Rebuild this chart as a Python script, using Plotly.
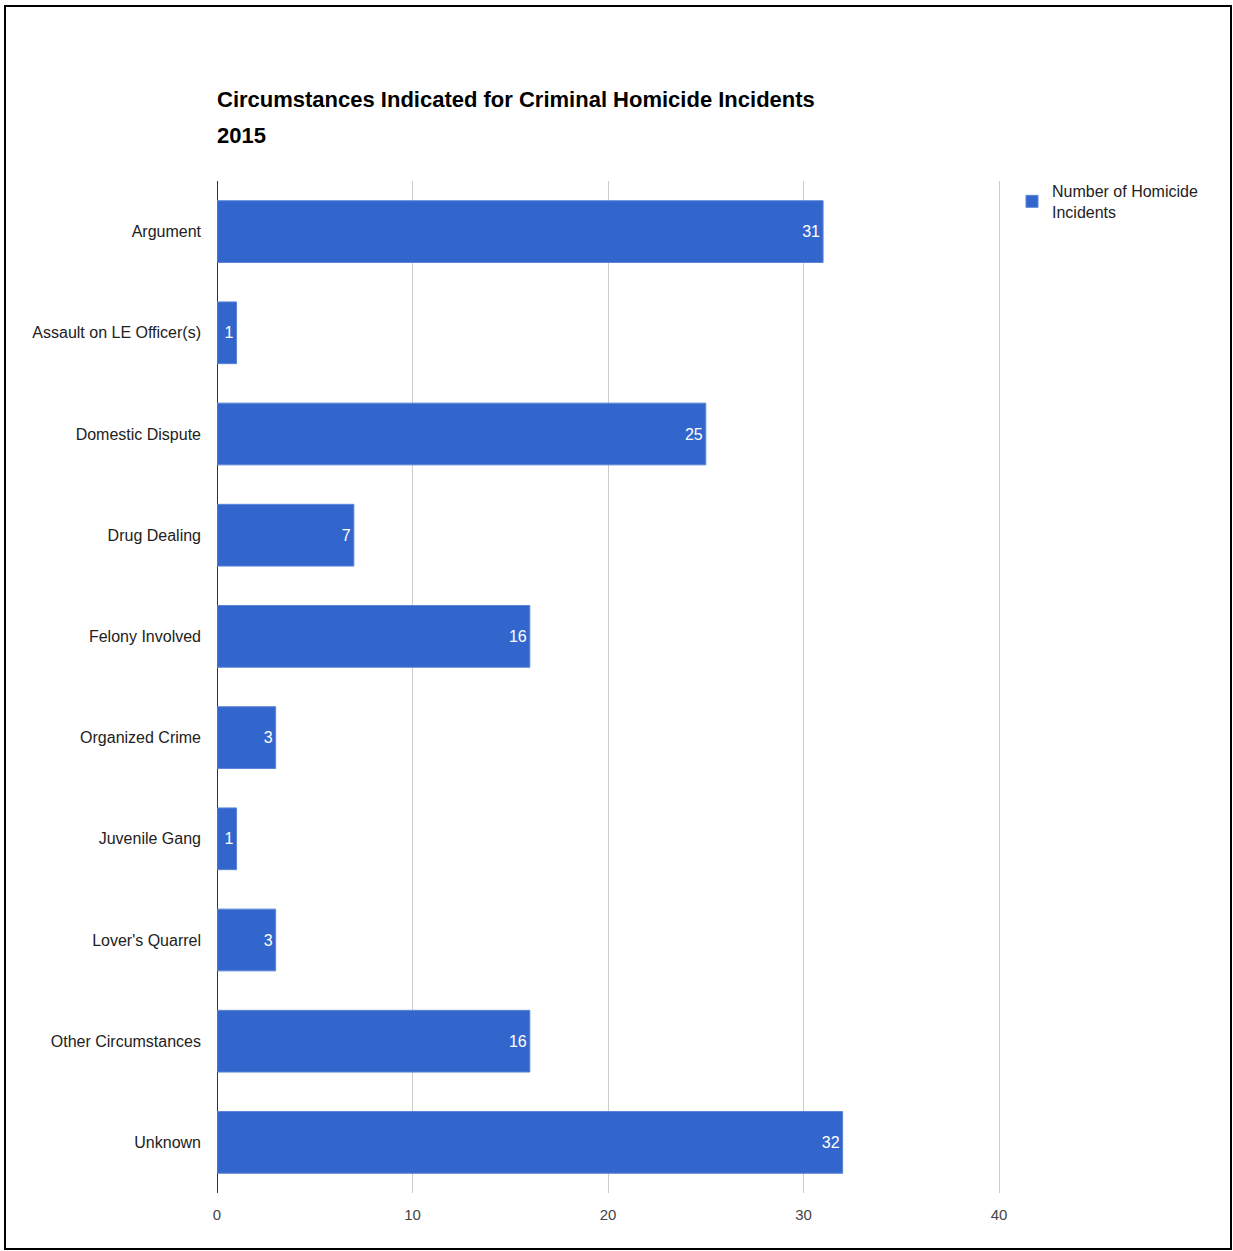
import plotly.graph_objects as go

categories = ["Argument", "Assault on LE Officer(s)", "Domestic Dispute", "Drug Dealing",
              "Felony Involved", "Organized Crime", "Juvenile Gang", "Lover's Quarrel",
              "Other Circumstances", "Unknown"]
values = [31, 1, 25, 7, 16, 3, 1, 3, 16, 32]
x_ticks = [0, 10, 20, 30, 40]
title_lines = ["Circumstances Indicated for Criminal Homicide Incidents", "2015"]

W, H = 1233, 1251
L, R, T, B = 217, 232, 181, 58
pw, ph = W - L - R, H - T - B

def px_x(p):
    return (p - L) / pw

def px_y(p):
    return (H - B - p) / ph

fig = go.Figure()
fig.add_trace(go.Bar(
    y=categories, x=values, orientation="h",
    name="Number of Homicide<br>Incidents",
    marker=dict(color="#3366CC", line=dict(color="#5a85d6", width=1)),
    text=[str(v) for v in values], textposition="inside", insidetextanchor="end",
    textfont=dict(color="white", size=16, family="Arial"),
    showlegend=True,
))

fig.update_layout(
    width=W, height=H,
    margin=dict(l=L, r=R, t=T, b=B, pad=0),
    paper_bgcolor="white", plot_bgcolor="white",
    font=dict(family="Arial", color="#222222", size=16),
    bargap=0.39,
    xaxis=dict(range=[0, 40.1], tickvals=x_ticks, ticktext=[str(t) for t in x_ticks],
               showgrid=True, gridcolor="#cccccc", gridwidth=1,
               zeroline=True, zerolinecolor="#333333", zerolinewidth=1,
               showline=False, ticks="", tickfont=dict(size=15, color="#444444"),
               ticklabelstandoff=11, fixedrange=True),
    yaxis=dict(autorange="reversed", showgrid=False, zeroline=False, showline=False,
               ticks="", tickfont=dict(size=16, color="#222222"), ticklabelstandoff=15),
    legend=dict(x=px_x(1012), y=px_y(174), xanchor="left", yanchor="top",
                font=dict(size=16, color="#222222"), bgcolor="rgba(0,0,0,0)",
                itemwidth=30),
    uniformtext=dict(minsize=10, mode="show"),
)

for line, yc in zip(title_lines, [100, 135]):
    fig.add_annotation(text="<b>" + line + "</b>", xref="paper", yref="paper",
                       x=px_x(215), y=px_y(yc), xanchor="left", yanchor="middle", showarrow=False,
                       font=dict(size=22, color="#000000", family="Arial"))

fig.add_shape(type="rect", xref="paper", yref="paper",
              x0=px_x(5), x1=px_x(1231), y0=px_y(1249), y1=px_y(6),
              line=dict(color="#000000", width=2), fillcolor="rgba(0,0,0,0)", layer="above")

fig.write_html("out.html", post_script="document.body.style.margin='0';",
               config={"displayModeBar": False})
